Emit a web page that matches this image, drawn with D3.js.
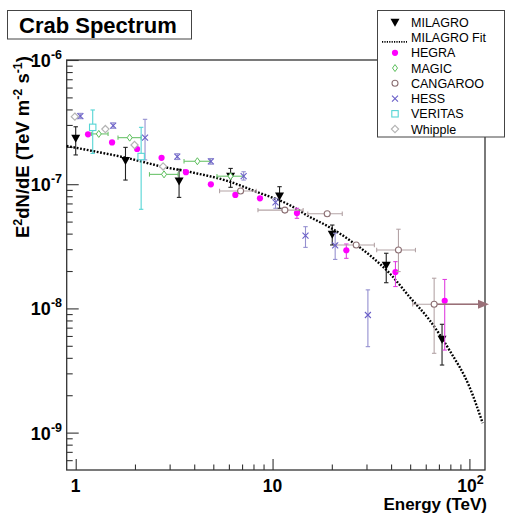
<!DOCTYPE html>
<html lang="en">
<head>
<meta charset="UTF-8">
<title>Crab Spectrum</title>
<script src="https://d3js.org/d3.v7.min.js"></script>
<style>
    body { margin: 0; background: #fff; }
    text { font-family: "Liberation Sans", Arial, Helvetica, sans-serif; }
    .axis-text { font-weight: bold; fill: #000; }
    .legend text { font-size: 12.5px; fill: #000; }
</style>
</head>
<body>
<div class="chart"></div>
<script>
    // ---- data (E in TeV, flux in TeV m^-2 s^-1) ----
    var milagroE  = [1.0, 1.79, 3.35, 6.12, 10.85, 20.1, 37.8, 72.6];
    var milagroF  = [2.34e-7, 1.55e-7, 1.06e-7, 1.16e-7, 8.04e-8, 3.95e-8, 2.23e-8, 5.64e-9];
    var milagroHi = [2.90e-7, 1.98e-7, 1.32e-7, 1.34e-7, 9.55e-8, 4.69e-8, 2.78e-8, 7.45e-9];
    var milagroLo = [1.72e-7, 1.08e-7, 7.83e-8, 9.44e-8, 6.40e-8, 3.24e-8, 1.61e-8, 3.50e-9];

    var fitE = [0.9, 1.22, 1.81, 2.67, 3.94, 5.82, 8.27, 12.2, 15.4, 19.5, 24.6, 31.1, 39.3, 49.6, 62.7, 79.1, 100, 116.8];
    var fitF = [2.03e-7, 1.85e-7, 1.63e-7, 1.40e-7, 1.24e-7, 1.07e-7, 8.70e-8, 6.80e-8, 5.47e-8, 4.50e-8,
                3.55e-8, 2.69e-8, 1.92e-8, 1.24e-8, 8.06e-9, 4.62e-9, 2.34e-9, 1.19e-9];

    var hegraE  = [1.155, 1.53, 2.05, 2.73, 3.63, 4.86, 6.47, 8.63, 13.3, 23.7, 42.1, 74.9];
    var hegraF  = [2.52e-7, 2.17e-7, 1.92e-7, 1.63e-7, 1.25e-7, 9.98e-8, 8.19e-8, 7.70e-8, 5.86e-8, 2.94e-8, 1.96e-8, 1.15e-8];
    var hegraHi = [null, null, null, null, null, null, null, null, 6.40e-8, 3.30e-8, 2.38e-8, 1.71e-8];
    var hegraLo = [null, null, null, null, null, null, null, null, 5.31e-8, 2.53e-8, 1.50e-8, 4.62e-9];

    var magicE   = [1.31, 1.88, 2.81, 4.15, 6.12];
    var magicF   = [2.54e-7, 2.37e-7, 1.20e-7, 1.53e-7, 1.16e-7];
    var magicElo = [1.20, 1.64, 2.37, 3.55, 5.22];
    var magicEhi = [1.46, 2.15, 3.31, 4.83, 7.13];

    var cangarooE   = [6.88, 11.55, 18.95, 26.6, 43.6, 66.2];
    var cangarooF   = [8.81e-8, 6.19e-8, 5.79e-8, 3.24e-8, 2.95e-8, 1.08e-8];
    var cangarooElo = [5.38, 8.43, 15.1, 21.1, 33.8, 51.5];
    var cangarooEhi = [8.26, 14.3, 22.6, 32.9, 53.2, null];   // null: bar runs off the axis (arrow)
    var cangarooHi  = [null, null, null, null, 4.34e-8, 1.75e-8];
    var cangarooLo  = [null, null, null, null, 1.98e-8, 4.35e-9];

    var hessE  = [1.056, 1.55, 2.25, 3.28, 4.86, 7.13, 10.35, 14.7, 20.8, 30.5];
    var hessF  = [3.54e-7, 2.96e-7, 2.37e-7, 1.67e-7, 1.53e-7, 1.16e-7, 7.14e-8, 3.85e-8, 3.22e-8, 8.85e-9];
    var hessHi = [3.72e-7, 3.12e-7, 3.33e-7, 1.76e-7, 1.61e-7, 1.26e-7, 7.70e-8, 4.55e-8, 4.03e-8, 1.41e-8];
    var hessLo = [3.37e-7, 2.82e-7, 1.57e-7, 1.58e-7, 1.45e-7, 1.08e-7, 6.40e-8, 3.10e-8, 2.48e-8, 4.92e-9];

    var veritasE  = [1.22, 2.15];
    var veritasF  = [2.87e-7, 1.67e-7];
    var veritasHi = [3.96e-7, 2.87e-7];
    var veritasLo = [1.77e-7, 6.28e-8];

    var whippleE = [0.99, 1.415, 1.99, 2.78];
    var whippleF = [3.50e-7, 2.78e-7, 2.07e-7, 1.39e-7];

    var xMajor = [1, 10, 100];
    var xMajorLabels = [["1", ""], ["10", ""], ["10", "2"]];
    var yMajor = [1e-6, 1e-7, 1e-8, 1e-9];
    var yMajorExp = ["-6", "-7", "-8", "-9"];

    var legendNames = ["MILAGRO", "MILAGRO Fit", "HEGRA", "MAGIC", "CANGAROO", "HESS", "VERITAS", "Whipple"];

    // ---- layout ----
    var W = 510, H = 513;
    var plot = {left: 66.7, right: 485, top: 60, bottom: 470};

    var svg = d3.select(".chart").append("svg")
        .attr("width", W)
        .attr("height", H);

    var x = d3.scaleLog().domain([0.9, 120]).range([plot.left, plot.right]);
    var y = d3.scaleLog().domain([5e-10, 1e-6]).range([plot.bottom, plot.top]);

    // minor tick values
    function minors(lo, hi) {
        var out = [];
        for (var e = Math.floor(Math.log10(lo)); e <= Math.ceil(Math.log10(hi)); e++) {
            for (var k = 2; k <= 9; k++) {
                var v = k * Math.pow(10, e);
                if (v > lo * 1.01 && v < hi * 0.99) out.push(v);
            }
        }
        return out;
    }

    // ---- axes (ticks inside, ROOT style) ----
    var axisG = svg.append("g");
    axisG.append("g")
        .attr("transform", "translate(0," + plot.bottom + ")")
        .call(d3.axisBottom(x).tickValues(xMajor).tickSize(-11).tickFormat(""));
    axisG.append("g")
        .attr("transform", "translate(0," + plot.bottom + ")")
        .call(d3.axisBottom(x).tickValues(minors(0.9, 120)).tickSize(-5.5).tickFormat(""));
    axisG.append("g")
        .attr("transform", "translate(" + plot.left + ",0)")
        .call(d3.axisLeft(y).tickValues(yMajor).tickSize(-12).tickFormat(""));
    axisG.append("g")
        .attr("transform", "translate(" + plot.left + ",0)")
        .call(d3.axisLeft(y).tickValues(minors(5e-10, 1e-6)).tickSize(-6).tickFormat(""));
    axisG.selectAll(".domain").remove();
    axisG.selectAll(".tick line").attr("stroke", "#333").attr("stroke-width", 1.1);

    svg.append("rect")
        .attr("x", plot.left).attr("y", plot.top)
        .attr("width", plot.right - plot.left).attr("height", plot.bottom - plot.top)
        .attr("fill", "none").attr("stroke", "#333").attr("stroke-width", 1.3);

    // tick labels
    xMajor.forEach(function (v, i) {
        var t = svg.append("text").attr("class", "axis-text")
            .attr("x", x(v) + (xMajorLabels[i][1] ? 1 : 0)).attr("y", 492)
            .attr("text-anchor", "middle").style("font-size", "17.5px")
            .text(xMajorLabels[i][0]);
        if (xMajorLabels[i][1]) {
            t.append("tspan").attr("dy", -8).style("font-size", "12.5px").text(xMajorLabels[i][1]);
        }
    });
    yMajor.forEach(function (v, i) {
        var t = svg.append("text").attr("class", "axis-text")
            .attr("x", 62).attr("y", y(v) + 7)
            .attr("text-anchor", "end").style("font-size", "18px")
            .text("10");
        t.append("tspan").attr("dy", -8).style("font-size", "12.5px").text(yMajorExp[i]);
    });

    // axis titles
    svg.append("text").attr("class", "axis-text")
        .attr("x", 487).attr("y", 509.5)
        .attr("text-anchor", "end").style("font-size", "17px")
        .text("Energy (TeV)");

    var yt = svg.append("text").attr("class", "axis-text")
        .attr("transform", "translate(29,56) rotate(-90)")
        .attr("text-anchor", "end").style("font-size", "18.5px");
    yt.append("tspan").text("E");
    yt.append("tspan").attr("dy", -7).style("font-size", "12.5px").text("2");
    yt.append("tspan").attr("dy", 7).text("dN/dE (TeV m");
    yt.append("tspan").attr("dy", -7).style("font-size", "12.5px").text("-2");
    yt.append("tspan").attr("dy", 7).text(" s");
    yt.append("tspan").attr("dy", -7).style("font-size", "12.5px").text("-1");
    yt.append("tspan").attr("dy", 7).text(")");

    // ---- markers ----
    function marker(sel, type, color) {
        switch (type) {
            case "tri":
                sel.append("path").attr("d", "M-4.5,-3.5L4.5,-3.5L0,4.5Z").attr("fill", color);
                break;
            case "dot":
                sel.append("circle").attr("r", 3.1).attr("fill", color);
                break;
            case "diamond":
                sel.append("path").attr("d", "M0,-3.5L2.5,0L0,3.5L-2.5,0Z")
                    .attr("fill", "#fff").attr("stroke", color).attr("stroke-width", 1);
                break;
            case "wdiamond":
                sel.append("path").attr("d", "M0,-3.6L3.6,0L0,3.6L-3.6,0Z")
                    .attr("fill", "#fff").attr("stroke", color).attr("stroke-width", 1.2);
                break;
            case "circle":
                sel.append("circle").attr("r", 3).attr("fill", "#fff")
                    .attr("stroke", color).attr("stroke-width", 1.1);
                break;
            case "x":
                sel.append("path").attr("d", "M-3,-3L3,3M-3,3L3,-3")
                    .attr("stroke", color).attr("stroke-width", 1.1);
                break;
            case "square":
                sel.append("rect").attr("x", -3.2).attr("y", -3.2).attr("width", 6.4).attr("height", 6.4)
                    .attr("fill", "#fff").attr("stroke", color).attr("stroke-width", 1.1);
                break;
        }
    }

    var series = [
        {E: milagroE, F: milagroF, hi: milagroHi, lo: milagroLo, marker: "tri", color: "#000", err: "#222"},
        {fit: true},
        {E: hegraE, F: hegraF, hi: hegraHi, lo: hegraLo, marker: "dot", color: "#ff00ff", err: "#e040e0"},
        {E: magicE, F: magicF, elo: magicElo, ehi: magicEhi, marker: "diamond", color: "#5cbf5c", err: "#6cc46c"},
        {E: cangarooE, F: cangarooF, elo: cangarooElo, ehi: cangarooEhi, hi: cangarooHi, lo: cangarooLo,
            marker: "circle", color: "#8c7074", err: "#b4a4a6", arrow: "#9a7078"},
        {E: hessE, F: hessF, hi: hessHi, lo: hessLo, marker: "x", color: "#6a5fc8", err: "#9590d0"},
        {E: veritasE, F: veritasF, hi: veritasHi, lo: veritasLo, marker: "square", color: "#55d5d5", err: "#55d5d5"},
        {E: whippleE, F: whippleF, marker: "wdiamond", color: "#b4b4b4", err: "#b4b4b4"}
    ];

    var dataG = svg.append("g");
    var cap = 2.2;

    series.forEach(function (s) {
        if (s.fit) {
            var pts = fitE.map(function (e, i) { return [e, fitF[i]]; });
            dataG.append("path")
                .attr("d", d3.line()
                    .x(function (d) { return x(d[0]); })
                    .y(function (d) { return y(d[1]); })
                    .curve(d3.curveMonotoneX)(pts))
                .attr("fill", "none").attr("stroke", "#000")
                .attr("stroke-width", 2.4).attr("stroke-dasharray", "1.8,1.6");
            return;
        }
        var g = dataG.append("g");
        s.E.forEach(function (e, i) {
            var px = x(e), py = y(s.F[i]);
            var eg = g.append("g").attr("stroke", s.err).attr("stroke-width", 1.1);
            if (s.hi && s.hi[i] != null) {
                var y1 = y(s.hi[i]), y2 = y(s.lo[i]);
                eg.append("line").attr("x1", px).attr("x2", px).attr("y1", y1).attr("y2", y2);
                eg.append("line").attr("x1", px - cap).attr("x2", px + cap).attr("y1", y1).attr("y2", y1);
                eg.append("line").attr("x1", px - cap).attr("x2", px + cap).attr("y1", y2).attr("y2", y2);
            }
            if (s.elo && s.elo[i] != null) {
                var x1 = x(s.elo[i]);
                var x2 = s.ehi[i] != null ? x(s.ehi[i]) : plot.right - 6;
                eg.append("line").attr("x1", x1).attr("x2", x2).attr("y1", py).attr("y2", py);
                eg.append("line").attr("x1", x1).attr("x2", x1).attr("y1", py - cap).attr("y2", py + cap);
                if (s.ehi[i] != null) {
                    eg.append("line").attr("x1", x2).attr("x2", x2).attr("y1", py - cap).attr("y2", py + cap);
                } else {
                    g.append("line").attr("x1", x(s.E[i])).attr("x2", plot.right - 6)
                        .attr("y1", py).attr("y2", py).attr("stroke", s.arrow).attr("stroke-width", 1.3);
                    g.append("path")
                        .attr("d", "M" + (plot.right - 7) + "," + (py - 4.5) + "L" + (plot.right + 4) + "," + py +
                            "L" + (plot.right - 7) + "," + (py + 4.5) + "Z")
                        .attr("fill", s.arrow);
                }
            }
            var mg = g.append("g").attr("transform", "translate(" + px + "," + py + ")");
            marker(mg, s.marker, s.color);
        });
    });

    // ---- legend ----
    var leg = svg.append("g").attr("class", "legend");
    leg.append("rect")
        .attr("x", 377.5).attr("y", 10.5).attr("width", 127).attr("height", 126.5)
        .attr("fill", "#fff").attr("stroke", "#444").attr("stroke-width", 1);

    legendNames.forEach(function (name, i) {
        var cy = 22.3 + i * 15.25;
        var s = series[i];
        if (s.fit) {
            leg.append("line").attr("x1", 382).attr("x2", 407).attr("y1", cy + 4.3).attr("y2", cy + 4.3)
                .attr("stroke", "#000").attr("stroke-width", 1.6).attr("stroke-dasharray", "1.2,1.2");
        } else {
            var mg = leg.append("g").attr("transform", "translate(395," + cy + ")");
            marker(mg, s.marker, s.color);
        }
        leg.append("text").attr("x", 411).attr("y", cy + 4.5).text(name);
    });

    // ---- title ----
    svg.append("rect")
        .attr("x", 7.5).attr("y", 10.5).attr("width", 184).attr("height", 28.5)
        .attr("fill", "#fff").attr("stroke", "#444").attr("stroke-width", 1);
    svg.append("text").attr("class", "axis-text")
        .attr("x", 19).attr("y", 32.5)
        .style("font-size", "22px")
        .text("Crab Spectrum");
</script>
</body>
</html>
